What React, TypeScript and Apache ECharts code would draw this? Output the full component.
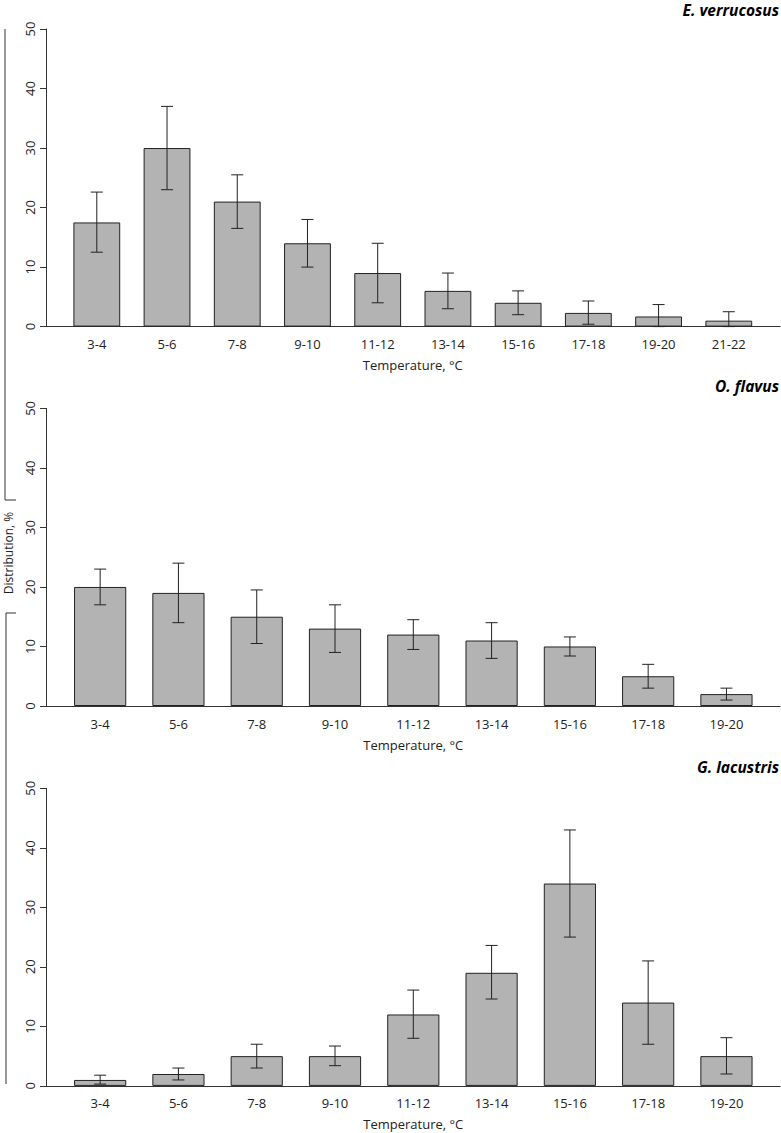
import React, { useEffect, useRef } from "react";
import * as echarts from "echarts";

// ---- data ----
const categoriesA = ["3-4", "5-6", "7-8", "9-10", "11-12", "13-14", "15-16", "17-18", "19-20", "21-22"];
const categoriesB = ["3-4", "5-6", "7-8", "9-10", "11-12", "13-14", "15-16", "17-18", "19-20"];

const verrucosusMean = [17.5, 30, 21, 14, 9, 6, 4, 2.3, 1.7, 1.0];
const verrucosusLow = [12.5, 23, 16.5, 10, 4, 3, 2, 0.4, 0, 0];
const verrucosusHigh = [22.6, 37, 25.5, 18, 14, 9, 6, 4.3, 3.7, 2.5];

const flavusMean = [20, 19, 15, 13, 12, 11, 10, 5, 2];
const flavusLow = [17, 14, 10.5, 9, 9.5, 8, 8.4, 3, 1];
const flavusHigh = [23, 24, 19.5, 17, 14.5, 14, 11.6, 7, 3];

const lacustrisMean = [1, 2, 5, 5, 12, 19, 34, 14, 5];
const lacustrisLow = [0.3, 1, 3, 3.4, 8, 14.6, 25, 7, 2];
const lacustrisHigh = [1.8, 3, 7, 6.7, 16.1, 23.6, 43, 21, 8.1];

const yTicks = { min: 0, max: 50, interval: 10 };
const xTitle = "Temperature, °C";
const yTitle = "Distribution, %";

const panels = [
  { title: "E. verrucosus", cats: categoriesA, mean: verrucosusMean, low: verrucosusLow, high: verrucosusHigh, top: 29, left: 61.7, right: 17.1, titleTop: 2 },
  { title: "O. flavus", cats: categoriesB, mean: flavusMean, low: flavusLow, high: flavusHigh, top: 408.4, left: 61, right: 15.4, titleTop: 378.5 },
  { title: "G. lacustris", cats: categoriesB, mean: lacustrisMean, low: lacustrisLow, high: lacustrisHigh, top: 788.3, left: 61, right: 15.4, titleTop: 759.5 },
];

const FONT = "'Open Sans', 'Noto Sans', sans-serif";
const PANEL_H = 297.6;
const LINE = "#333";
const TEXT = "#222";

function buildOption() {
  const grid: any[] = [];
  const xAxis: any[] = [];
  const yAxis: any[] = [];
  const series: any[] = [];
  const title: any[] = [];

  panels.forEach((p, i) => {
    const gFrame = 2 * i;
    const gBars = 2 * i + 1;
    grid.push({ left: 46, right: 1, top: p.top, height: PANEL_H, containLabel: false });
    grid.push({ left: p.left, right: p.right, top: p.top, height: PANEL_H, containLabel: false });

    xAxis.push({
      type: "value", gridIndex: gFrame, min: 0, max: 1,
      axisLine: { show: true, lineStyle: { color: LINE, width: 1 } },
      axisTick: { show: false }, axisLabel: { show: false }, splitLine: { show: false },
    });
    xAxis.push({
      type: "category", gridIndex: gBars, data: p.cats,
      axisLine: { show: false }, axisTick: { show: false }, splitLine: { show: false },
      axisLabel: { show: true, margin: 11, color: TEXT, fontSize: 13, fontFamily: FONT, interval: 0 },
      name: xTitle, nameLocation: "middle", nameGap: 32,
      nameTextStyle: { color: TEXT, fontSize: 13, fontFamily: FONT },
    });

    yAxis.push({
      type: "value", gridIndex: gFrame, min: yTicks.min, max: yTicks.max, interval: yTicks.interval,
      axisLine: { show: true, lineStyle: { color: LINE, width: 1 } },
      axisTick: { show: true, inside: false, length: 6, lineStyle: { color: LINE, width: 1 } },
      axisLabel: { show: true, rotate: 90, margin: 10, color: TEXT, fontSize: 13, fontFamily: FONT },
      splitLine: { show: false },
    });
    yAxis.push({
      type: "value", gridIndex: gBars, min: yTicks.min, max: yTicks.max, interval: yTicks.interval, show: false,
    });

    series.push({
      type: "bar", xAxisIndex: gBars, yAxisIndex: gBars, data: p.mean,
      barCategoryGap: "33.333%",
      itemStyle: { color: "#b3b3b3", borderColor: "#222", borderWidth: 1 },
      silent: true,
    });
    series.push({
      type: "custom", xAxisIndex: gBars, yAxisIndex: gBars,
      data: p.mean.map((_, k) => [k, p.low[k], p.high[k]]),
      encode: { x: 0, y: [1, 2] },
      clip: false,
      silent: true,
      z: 5,
      renderItem: (params: any, api: any) => {
        const idx = api.value(0);
        const lo = api.coord([idx, api.value(1)]);
        const hi = api.coord([idx, api.value(2)]);
        const cx = lo[0];
        const hw = 6;
        const st = { stroke: "#222", lineWidth: 1 };
        return {
          type: "group",
          children: [
            { type: "line", shape: { x1: cx, y1: lo[1], x2: cx, y2: hi[1] }, style: st },
            { type: "line", shape: { x1: cx - hw, y1: hi[1], x2: cx + hw, y2: hi[1] }, style: st },
            { type: "line", shape: { x1: cx - hw, y1: lo[1], x2: cx + hw, y2: lo[1] }, style: st },
          ],
        };
      },
    });

    title.push({
      text: p.title, right: 2, top: p.titleTop, padding: 0,
      textStyle: { fontSize: 15.5, lineHeight: 15, fontStyle: "italic", fontWeight: "bold", color: "#000", fontFamily: FONT },
    });
  });

  const graphic = [
    { type: "polyline", shape: { points: [[5, 29], [5, 500], [16, 500]] }, style: { stroke: LINE, lineWidth: 1, fill: null } },
    { type: "polyline", shape: { points: [[16, 613], [6, 613], [6, 1084]] }, style: { stroke: LINE, lineWidth: 1, fill: null } },
    {
      type: "text", x: 8, y: 553, rotation: Math.PI / 2,
      style: { text: yTitle, align: "center", verticalAlign: "middle", fill: TEXT, font: `12px ${FONT}` },
    },
  ];

  return { animation: false, backgroundColor: "#fff", grid, xAxis, yAxis, series, title, graphic };
}

export default function App() {
  const ref = useRef<HTMLDivElement>(null);
  useEffect(() => {
    document.body.style.margin = "0";
    if (!ref.current) return;
    const chart = echarts.init(ref.current, undefined, { renderer: "svg" });
    chart.setOption(buildOption() as any);
    return () => chart.dispose();
  }, []);
  return <div ref={ref} style={{ position: "absolute", left: 0, top: 0, width: 781, height: 1133 }} />;
}
